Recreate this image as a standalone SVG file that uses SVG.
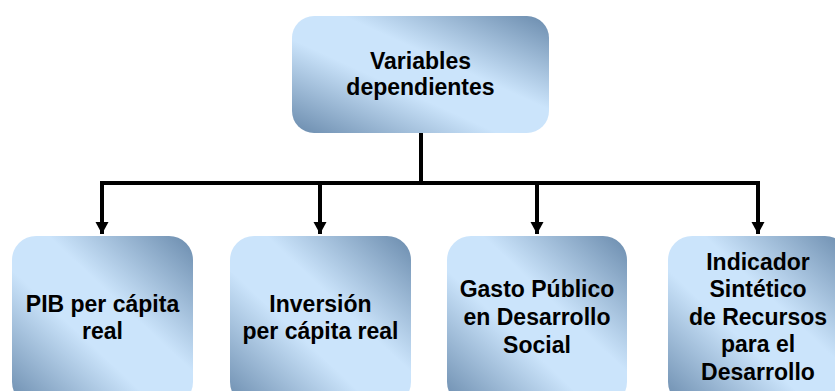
<svg xmlns="http://www.w3.org/2000/svg" width="835" height="391" viewBox="0 0 835 391">
<defs>
<linearGradient id="g" x1="1" y1="0" x2="0" y2="1">
<stop offset="0" stop-color="#6a8bad"/>
<stop offset="0.4" stop-color="#cbe4fb"/>
<stop offset="0.6" stop-color="#cbe4fb"/>
<stop offset="1" stop-color="#6a8bad"/>
</linearGradient>
<marker id="arr" markerUnits="userSpaceOnUse" markerWidth="14" markerHeight="14" refX="12" refY="6.5" orient="auto">
<path d="M0,0 L12,6.5 L0,13 Z" fill="#000"/>
</marker>
<style>
.box{fill:url(#g);}
.t{font-family:"Liberation Sans",Arial,sans-serif;font-weight:bold;font-size:23px;fill:#000;text-anchor:middle;}
.c{stroke:#000;stroke-width:4;fill:none;}
</style>
</defs>
<g id="connectors">
<path class="c" d="M421,133 V183"/>
<path class="c" d="M100,183 H760"/>
<path class="c" d="M102,183 V234" marker-end="url(#arr)"/>
<path class="c" d="M320,183 V234" marker-end="url(#arr)"/>
<path class="c" d="M537,183 V234" marker-end="url(#arr)"/>
<path class="c" d="M758,183 V234" marker-end="url(#arr)"/>
</g>
<g id="top">
<rect class="box" x="292" y="16" width="257" height="117" rx="22"/>
<text class="t" x="420.5" y="69">Variables</text>
<text class="t" x="420.5" y="95">dependientes</text>
</g>
<g id="pib">
<rect class="box" x="12" y="236" width="181" height="170" rx="24"/>
<text class="t" x="102.5" y="312">PIB per cápita</text>
<text class="t" x="102.5" y="339">real</text>
</g>
<g id="inversion">
<rect class="box" x="230" y="236" width="181" height="170" rx="24"/>
<text class="t" x="320.5" y="312">Inversión</text>
<text class="t" x="320.5" y="339">per cápita real</text>
</g>
<g id="gasto">
<rect class="box" x="447" y="236" width="180" height="170" rx="24"/>
<text class="t" x="537" y="297">Gasto Público</text>
<text class="t" x="537" y="325">en Desarrollo</text>
<text class="t" x="537" y="353">Social</text>
</g>
<g id="indicador">
<rect class="box" x="668" y="236" width="181" height="170" rx="24"/>
<text class="t" x="758" y="270">Indicador</text>
<text class="t" x="758" y="297">Sintético</text>
<text class="t" x="758" y="325">de Recursos</text>
<text class="t" x="758" y="352">para el</text>
<text class="t" x="758" y="380">Desarrollo</text>
</g>
</svg>
